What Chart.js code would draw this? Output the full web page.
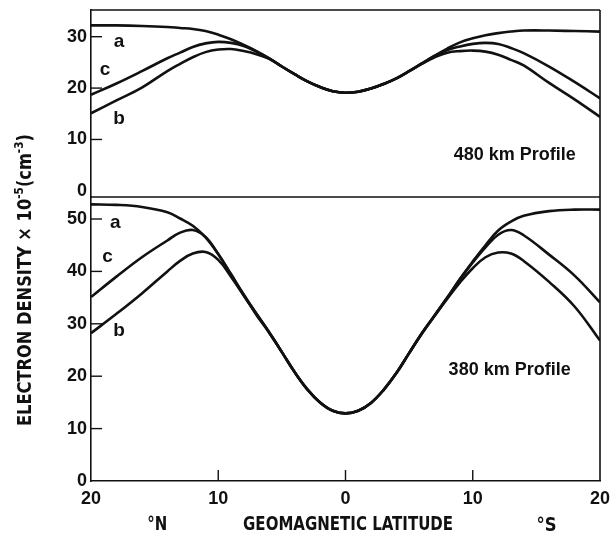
<!DOCTYPE html>
<html>
<head>
<meta charset="utf-8">
<script src="https://cdn.jsdelivr.net/npm/chart.js@4/dist/chart.umd.min.js"></script>
<style>
  html, body { margin: 0; padding: 0; background: #fff; }
  #wrap { position: relative; width: 613px; height: 534px; }
</style>
</head>
<body>
<div id="wrap"><canvas id="chart" width="613" height="534"></canvas></div>
<script>
// geomagnetic latitude, negative = north, positive = south
const lat = [-20, -18, -16, -14, -13, -12, -11, -10, -9, -8, -7, -6, -5, -4, -3, -2, -1, 0,
             1, 2, 3, 4, 5, 6, 7, 8, 9, 10, 11, 12, 13, 14, 16, 18, 20];

// 480 km profile
const a480 = [32.2, 32.2, 32.1, 31.9, 31.7, 31.5, 31.1, 30.4, 29.5, 28.4, 27.2, 25.8, 24.2, 22.7, 21.3, 20.2, 19.4, 19.1,
              19.3, 19.9, 20.8, 21.9, 23.3, 24.8, 26.3, 27.7, 28.9, 29.7, 30.3, 30.7, 31.0, 31.2, 31.2, 31.1, 31.0];
const c480 = [18.7, 20.9, 23.3, 25.8, 26.9, 28.0, 28.7, 29.0, 28.8, 28.2, 27.1, 25.8, 24.2, 22.7, 21.3, 20.2, 19.4, 19.1,
              19.3, 19.9, 20.8, 21.9, 23.3, 24.8, 26.2, 27.4, 28.1, 28.6, 28.8, 28.6, 27.8, 26.8, 24.2, 21.2, 18.0];
const b480 = [15.1, 17.6, 20.1, 23.3, 24.7, 26.0, 27.0, 27.5, 27.6, 27.2, 26.6, 25.7, 24.2, 22.7, 21.3, 20.2, 19.4, 19.1,
              19.3, 19.9, 20.8, 21.9, 23.3, 24.7, 26.0, 26.9, 27.2, 27.3, 27.1, 26.5, 25.5, 24.4, 21.0, 17.8, 14.4];

// 380 km profile
const a380 = [52.8, 52.7, 52.3, 51.3, 50.1, 48.7, 46.5, 43.3, 39.5, 35.6, 31.9, 28.4, 24.6, 20.8, 17.5, 15.0, 13.4, 12.9,
              13.4, 14.9, 17.4, 20.6, 24.4, 28.2, 31.6, 35.0, 38.6, 41.9, 45.0, 47.8, 49.5, 50.6, 51.5, 51.8, 51.8];
const c380 = [35.1, 39.0, 42.7, 45.9, 47.4, 47.9, 46.6, 43.3, 39.4, 35.5, 31.9, 28.4, 24.6, 20.8, 17.5, 15.0, 13.4, 12.9,
              13.4, 14.9, 17.4, 20.6, 24.4, 28.2, 31.6, 35.0, 38.5, 41.7, 44.6, 47.0, 47.9, 46.9, 43.2, 39.2, 34.1];
const b380 = [28.2, 31.9, 35.8, 40.0, 42.0, 43.4, 43.7, 42.2, 39.0, 35.4, 31.7, 28.3, 24.6, 20.8, 17.5, 15.0, 13.4, 12.9,
              13.4, 14.9, 17.4, 20.6, 24.4, 28.1, 31.5, 34.8, 37.9, 40.6, 42.7, 43.6, 43.4, 42.0, 38.0, 33.3, 26.8];

const latTicks = [-20, -10, 0, 10, 20];
const ticks480 = [0, 10, 20, 30];
const ticks380 = [0, 10, 20, 30, 40, 50];

const ink = '#111';
const tickFont = { family: '"Liberation Sans", Arial, sans-serif', size: 18, weight: 'bold' };
const narrow = '"Liberation Sans Narrow", "DejaVu Sans Condensed", sans-serif';

// curve letters and panel names, in data units of their panel
const curveTags = [
  { text: 'a', x: -17.8, y: 29.0, axis: 'yTop' },
  { text: 'c', x: -18.9, y: 23.5, axis: 'yTop' },
  { text: 'b', x: -17.8, y: 14.1, axis: 'yTop' },
  { text: 'a', x: -18.1, y: 49.2, axis: 'yBot' },
  { text: 'c', x: -18.7, y: 42.7, axis: 'yBot' },
  { text: 'b', x: -17.8, y: 28.7, axis: 'yBot' },
];
const panelTags = [
  { text: '480 km Profile', x: 13.3, y: 6.9, axis: 'yTop' },
  { text: '380 km Profile', x: 12.9, y: 21.1, axis: 'yBot' },
];

const series = (ys) => lat.map((x, i) => ({ x: x, y: ys[i] }));
const curve = (label, ys, axis) => ({
  label: label,
  data: series(ys),
  yAxisID: axis,
  borderColor: ink,
  borderWidth: 2.6,
  pointRadius: 0,
  fill: false,
  tension: 0.4,
});

const line = (ctx, x1, y1, x2, y2) => {
  ctx.beginPath();
  ctx.moveTo(x1, y1);
  ctx.lineTo(x2, y2);
  ctx.stroke();
};

// squeeze a run of text pieces [text, superscript?] horizontally to a given length
const squeezed = (ctx, parts, cx, cy, len) => {
  const big = 'bold 20px ' + narrow, small = 'bold 13px ' + narrow;
  let total = 0;
  parts.forEach(p => { ctx.font = p[1] ? small : big; total += ctx.measureText(p[0]).width; });
  ctx.save();
  ctx.translate(cx, cy);
  ctx.scale(len / total, 1);
  ctx.textAlign = 'left';
  ctx.textBaseline = 'alphabetic';
  let x = -total / 2;
  parts.forEach(p => {
    ctx.font = p[1] ? small : big;
    ctx.fillText(p[0], x, p[1] ? -1 : 7);
    x += ctx.measureText(p[0]).width;
  });
  ctx.restore();
};

// keep the frame where the layout padding puts it
const noEdgePad = s => { s.paddingTop = 0; s.paddingBottom = 0; };

const decor = {
  id: 'decor',
  afterDatasetsDraw(chart) {
    const { ctx, chartArea: ca, scales } = chart;
    const x = scales.x, yTop = scales.yTop, yBot = scales.yBot;
    ctx.save();
    ctx.strokeStyle = ink;
    ctx.lineWidth = 1.6;
    // frame top, right and the panel divider
    line(ctx, ca.left, ca.top, ca.right, ca.top);
    line(ctx, ca.right, ca.top, ca.right, ca.bottom);
    line(ctx, ca.left, yTop.bottom, ca.right, yTop.bottom);

    // inward tick marks
    ctx.lineWidth = 1.4;
    yTop.ticks.forEach(t => {
      if (t.value > 0) { const py = yTop.getPixelForValue(t.value); line(ctx, ca.left, py, ca.left + 11, py); }
    });
    yBot.ticks.forEach(t => {
      if (t.value > 0) { const py = yBot.getPixelForValue(t.value); line(ctx, ca.left, py, ca.left + 11, py); }
    });
    x.ticks.forEach(t => {
      if (Math.abs(t.value) < 20) { const px = x.getPixelForValue(t.value); line(ctx, px, ca.bottom, px, ca.bottom - 11); }
    });

    ctx.fillStyle = ink;
    ctx.textAlign = 'center';
    ctx.textBaseline = 'middle';
    ctx.font = 'bold 19px "Liberation Sans", Arial, sans-serif';
    curveTags.forEach(t => {
      ctx.fillText(t.text, x.getPixelForValue(t.x), scales[t.axis].getPixelForValue(t.y));
    });
    ctx.font = 'bold 18px "Liberation Sans", Arial, sans-serif';
    panelTags.forEach(t => {
      ctx.fillText(t.text, x.getPixelForValue(t.x), scales[t.axis].getPixelForValue(t.y));
    });

    // x title with hemisphere marks
    squeezed(ctx, [['GEOMAGNETIC LATITUDE', 0]], x.getPixelForValue(0.2), 523, 210);
    squeezed(ctx, [['°N', 0]], x.getPixelForValue(-14.8), 523, 20);
    squeezed(ctx, [['°S', 0]], x.getPixelForValue(15.8), 524, 20);

    // rotated y title
    ctx.translate(24, 280);
    ctx.rotate(-Math.PI / 2);
    squeezed(ctx, [['ELECTRON DENSITY × 10', 0], ['-5', 1], ['(cm', 0], ['-3', 1], [')', 0]], 0, 0, 292);
    ctx.restore();
  }
};

new Chart(document.getElementById('chart'), {
  type: 'line',
  data: {
    datasets: [
      curve('a', a480, 'yTop'),
      curve('c', c480, 'yTop'),
      curve('b', b480, 'yTop'),
      curve('a', a380, 'yBot'),
      curve('c', c380, 'yBot'),
      curve('b', b380, 'yBot'),
    ]
  },
  options: {
    responsive: false,
    animation: false,
    layout: { padding: { top: 10, right: 13, left: 0, bottom: 0 } },
    plugins: { legend: { display: false }, tooltip: { enabled: false } },
    scales: {
      x: {
        type: 'linear',
        position: 'bottom',
        min: -20,
        max: 20,
        afterBuildTicks: s => { s.ticks = latTicks.map(v => ({ value: v })); },
        afterFit: s => { s.height = 53; s.paddingLeft = 0; s.paddingRight = 0; },
        ticks: { callback: v => Math.abs(v), color: ink, font: tickFont, padding: 7, maxRotation: 0 },
        grid: { display: false, drawTicks: false },
        border: { display: true, color: ink, width: 1.6 },
      },
      yBot: {
        type: 'linear',
        position: 'left',
        stack: 'panels',
        stackWeight: 284,
        min: 0,
        max: 54.2,
        afterBuildTicks: s => { s.ticks = ticks380.map(v => ({ value: v })); },
        afterFit: s => { s.width = 91; noEdgePad(s); },
        ticks: { color: ink, font: tickFont, padding: 4 },
        grid: { display: false, drawTicks: false },
        border: { display: true, color: ink, width: 1.6 },
      },
      yTop: {
        type: 'linear',
        position: 'left',
        stack: 'panels',
        stackWeight: 187,
        min: -1.2,
        max: 35.2,
        afterBuildTicks: s => { s.ticks = ticks480.map(v => ({ value: v })); },
        afterFit: s => { s.width = 91; noEdgePad(s); },
        ticks: { color: ink, font: tickFont, padding: 4 },
        grid: { display: false, drawTicks: false },
        border: { display: true, color: ink, width: 1.6 },
      },
    }
  },
  plugins: [decor]
});
</script>
</body>
</html>
